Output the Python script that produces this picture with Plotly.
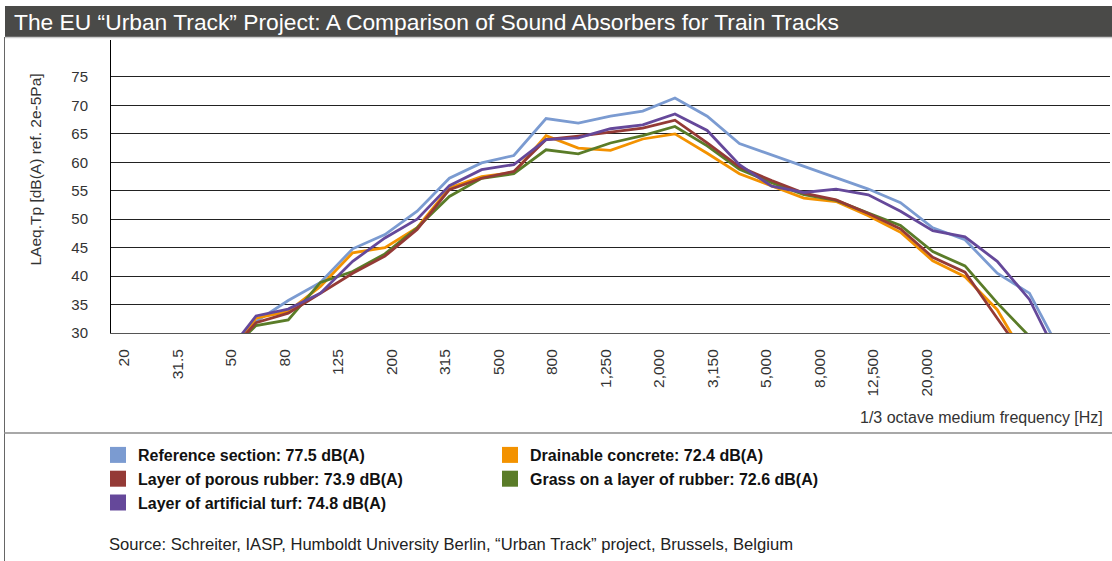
import plotly.graph_objects as go

# ---------------- data ----------------
bands = ["20", "25", "31.5", "40", "50", "63", "80", "100", "125", "160", "200", "250",
         "315", "400", "500", "630", "800", "1,000", "1,250", "1,600", "2,000", "2,500",
         "3,150", "4,000", "5,000", "6,300", "8,000", "10,000", "12,500", "16,000", "20,000"]

reference = [14.0, 17.5, 21.0, 25.5, 32.0, 35.7, 38.9, 44.8, 47.3, 51.4, 57.2, 59.9,
             61.2, 67.7, 66.9, 68.1, 69.0, 71.3, 68.1, 63.3, 61.3, 59.3, 57.2, 55.3,
             52.9, 48.5, 46.4, 40.5, 37.0, 26.3, 20.0]
drainable = [13.5, 17.0, 20.5, 24.9, 32.6, 33.8, 38.2, 44.1, 45.0, 48.5, 55.5, 57.5,
             58.2, 64.7, 62.5, 62.1, 64.1, 65.0, 61.6, 58.0, 55.9, 53.7, 53.1, 50.6,
             47.7, 42.7, 39.9, 34.1, 24.5, 19.0, 15.0]
porous = [13.8, 17.2, 20.8, 25.5, 31.8, 33.5, 37.0, 40.5, 43.5, 48.2, 55.2, 57.2,
          58.4, 64.0, 64.6, 65.3, 66.0, 67.4, 63.4, 59.2, 56.8, 54.6, 53.4, 51.0,
          48.3, 43.3, 40.7, 32.6, 24.6, 19.0, 15.0]
grass = [14.2, 17.8, 21.3, 25.8, 31.3, 32.3, 38.9, 40.8, 43.9, 48.5, 54.0, 57.2,
         58.0, 62.2, 61.5, 63.4, 64.7, 66.3, 62.9, 58.8, 56.4, 54.3, 53.3, 51.1,
         48.9, 44.3, 41.8, 35.3, 29.4, 22.0, 17.0]
turf = [14.5, 18.0, 21.5, 25.7, 33.0, 34.2, 37.0, 42.6, 46.7, 50.0, 55.9, 58.7,
        59.6, 64.0, 64.3, 65.9, 66.6, 68.5, 65.6, 59.6, 55.8, 54.7, 55.3, 54.3,
        51.4, 48.0, 46.9, 42.6, 35.9, 24.5, 19.0]

series_names = ["Reference section: 77.5 dB(A)", "Drainable concrete: 72.4 dB(A)",
                "Layer of porous rubber: 73.9 dB(A)", "Grass on a layer of rubber: 72.6 dB(A)",
                "Layer of artificial turf: 74.8 dB(A)"]
series_values = [reference, drainable, porous, grass, turf]
series_colors = ["#7b9bd1", "#f39200", "#943a36", "#5a7c28", "#65489a"]
draw_order = [0, 1, 3, 2, 4]

y_ticks = [30, 35, 40, 45, 50, 55, 60, 65, 70, 75]

title_text = "The EU “Urban Track” Project: A Comparison of Sound Absorbers for Train Tracks"
y_title = "LAeq.Tp [dB(A) ref. 2e-5Pa]"
x_title = "1/3 octave medium frequency [Hz]"
source_text = "Source: Schreiter, IASP, Humboldt University Berlin, “Urban Track” project, Brussels, Belgium"

# ---------------- layout geometry ----------------
W, H = 1112, 561
ML, MR, MT, MB = 111, 2, 40, 228
PW, PH = W - ML - MR, H - MT - MB
FONT = "Liberation Sans, Arial, Helvetica, sans-serif"


def px(x):
    return (x - ML) / PW


def py(y):
    return (H - MB - y) / PH


fig = go.Figure()

for k in draw_order:
    fig.add_trace(go.Scatter(
        x=bands, y=series_values[k], mode="lines", xaxis="x2", yaxis="y",
        line=dict(color=series_colors[k], width=2.8), showlegend=False,
        name=series_names[k], hoverinfo="skip"))

# legend swatches (on the labelled frequency axis)
for k in range(len(series_names)):
    fig.add_trace(go.Scatter(
        x=[None], y=[None], mode="markers", name=series_names[k], xaxis="x", yaxis="y",
        marker=dict(symbol="square", size=16, color=series_colors[k]), showlegend=True))

tick_idx = list(range(len(bands)))
tick_txt = [b if i % 2 == 0 else "" for i, b in enumerate(bands)]

fig.update_layout(
    width=W, height=H, margin=dict(l=ML, r=MR, t=MT, b=MB),
    paper_bgcolor="white", plot_bgcolor="white",
    font=dict(family=FONT, size=15, color="#333333"),
    xaxis=dict(type="linear", range=[-0.486, 36.86], tickmode="array",
               tickvals=tick_idx, ticktext=tick_txt, tickangle=-90,
               showgrid=False, zeroline=False, ticks="", showline=True,
               linecolor="#555555", linewidth=1, ticklabelstandoff=9,
               tickfont=dict(size=15.5, color="#333333")),
    xaxis2=dict(type="category", categoryarray=bands, range=[-0.5, 30.5],
                overlaying="x", anchor="y", visible=False),
    yaxis=dict(range=[30, 81.5], tickmode="array", tickvals=y_ticks,
               showgrid=True, gridcolor="#222222", gridwidth=1, zeroline=False,
               showline=True, linecolor="#000000", linewidth=1, ticks="",
               ticklabelstandoff=19, tickfont=dict(size=15, color="#333333")),
    showlegend=True,
    legend=dict(orientation="h", x=px(98), xanchor="left", y=py(438), yanchor="top",
                entrywidth=347, entrywidthmode="pixels", traceorder="normal",
                font=dict(family=FONT, size=16, color="#111111", weight="bold"),
                bgcolor="rgba(0,0,0,0)", itemclick=False),
    shapes=[
        dict(type="rect", xref="paper", yref="paper", x0=px(5), x1=px(1113),
             y0=py(37), y1=py(6), fillcolor="#4a4a48", line=dict(width=0), layer="above"),
        dict(type="line", xref="paper", yref="paper", x0=px(5), x1=px(1113),
             y0=py(37.5), y1=py(37.5), line=dict(color="#cccccc", width=1.5)),
        dict(type="line", xref="paper", yref="paper", x0=px(4.5), x1=px(4.5),
             y0=py(37), y1=py(562), line=dict(color="#666666", width=1)),
        dict(type="line", xref="paper", yref="paper", x0=px(4.5), x1=px(1113),
             y0=py(433), y1=py(433), line=dict(color="#a8a8a8", width=2)),
    ],
    annotations=[
        dict(text=title_text, xref="paper", yref="paper", x=px(12), y=py(21.5),
             xanchor="left", yanchor="middle", showarrow=False,
             font=dict(family=FONT, size=22.8, color="white")),
        dict(text=y_title, xref="paper", yref="paper", x=px(34.5), y=py(170),
             xanchor="center", yanchor="middle", textangle=-90, showarrow=False,
             font=dict(family=FONT, size=15.5, color="#333333")),
        dict(text=x_title, xref="paper", yref="paper", x=px(1105), y=py(417),
             xanchor="right", yanchor="middle", showarrow=False,
             font=dict(family=FONT, size=16, color="#333333")),
        dict(text=source_text, xref="paper", yref="paper", x=px(107), y=py(544),
             xanchor="left", yanchor="middle", showarrow=False,
             font=dict(family=FONT, size=16.6, color="#222222")),
    ],
)

fig.write_html("out.html", config={"displayModeBar": False},
               post_script="document.body.style.margin='0';")
